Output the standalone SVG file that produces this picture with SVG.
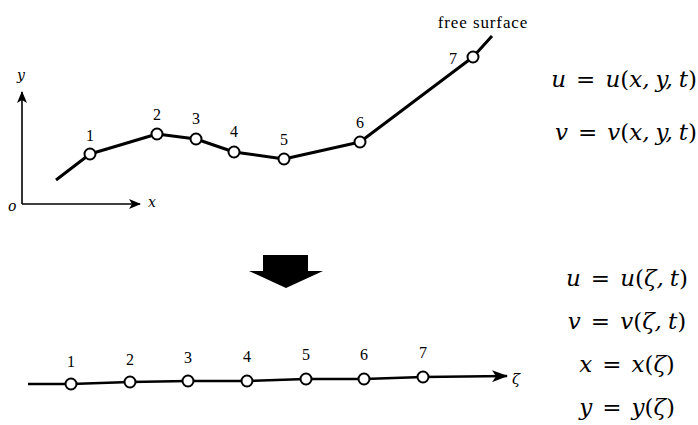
<svg xmlns="http://www.w3.org/2000/svg" width="698" height="425" viewBox="0 0 698 425">
<defs>
<style>
.num{font-family:"Liberation Serif","DejaVu Serif",serif;font-size:16px;fill:#000;text-anchor:middle}
.lbl{font-family:"Liberation Serif","DejaVu Serif",serif;font-size:17px;letter-spacing:0.9px;fill:#000}
.math{font-family:"DejaVu Serif",serif;font-style:italic;font-size:23px;fill:#000}
.up{font-style:normal}
.node{fill:#fff;stroke:#000;stroke-width:2}
.curve{fill:none;stroke:#000;stroke-width:3;stroke-linejoin:round}
.axis{fill:none;stroke:#000;stroke-width:1.6}
</style>
<marker id="ah" viewBox="0 0 12 10" refX="11" refY="5" markerWidth="12" markerHeight="10" markerUnits="userSpaceOnUse" orient="auto">
<path d="M0,0 L12,5 L0,10 L3,5 Z" fill="#000"/>
</marker>
<marker id="ah2" viewBox="0 0 16 12" refX="15" refY="6" markerWidth="16" markerHeight="12" markerUnits="userSpaceOnUse" orient="auto">
<path d="M0,0 L16,6 L0,12 L4,6 Z" fill="#000"/>
</marker>
</defs>
<rect width="698" height="425" fill="#fff"/>
<g id="connectors">
<line class="axis" x1="22" y1="204" x2="22" y2="92" marker-end="url(#ah)"/>
<line class="axis" x1="22" y1="204" x2="140" y2="204" marker-end="url(#ah)"/>
<polyline class="curve" points="56,180 90,154 157,134 196,139 234,152 284,159 360,142 473,57 492,36"/>
<polyline class="curve" style="stroke-width:2.6" points="28,384 71,384 130,382 188,381 247,381 306,379 364,379 423,377 507,376" marker-end="url(#ah2)"/>
</g>
<g id="axis-labels">
<text class="math" style="font-size:14px" x="8" y="211">o</text>
<text class="math" style="font-size:14px" x="148" y="207">x</text>
<text class="math" style="font-size:14px" x="17" y="80">y</text>
<text class="math" style="font-size:15px" x="512" y="384">ζ</text>
</g>
<g id="top-nodes">
<g id="t1"><circle class="node" cx="90" cy="154" r="5.5"/><text class="num" x="90" y="141">1</text></g>
<g id="t2"><circle class="node" cx="157" cy="134" r="5.5"/><text class="num" x="157" y="120">2</text></g>
<g id="t3"><circle class="node" cx="196" cy="139" r="5.5"/><text class="num" x="196" y="124">3</text></g>
<g id="t4"><circle class="node" cx="234" cy="152" r="5.5"/><text class="num" x="234" y="137">4</text></g>
<g id="t5"><circle class="node" cx="284" cy="159" r="5.5"/><text class="num" x="284" y="145">5</text></g>
<g id="t6"><circle class="node" cx="360" cy="142" r="5.5"/><text class="num" x="360" y="128">6</text></g>
<g id="t7"><circle class="node" cx="473" cy="57" r="5.5"/><text class="num" x="453" y="64">7</text></g>
<text class="lbl" x="483" y="28" text-anchor="middle">free surface</text>
</g>
<g id="bottom-nodes">
<g id="b1"><circle class="node" cx="71" cy="384" r="5.5"/><text class="num" x="71" y="367">1</text></g>
<g id="b2"><circle class="node" cx="130" cy="382" r="5.5"/><text class="num" x="130" y="365">2</text></g>
<g id="b3"><circle class="node" cx="188" cy="381" r="5.5"/><text class="num" x="188" y="363">3</text></g>
<g id="b4"><circle class="node" cx="247" cy="381" r="5.5"/><text class="num" x="247" y="362">4</text></g>
<g id="b5"><circle class="node" cx="306" cy="379" r="5.5"/><text class="num" x="306" y="360">5</text></g>
<g id="b6"><circle class="node" cx="364" cy="379" r="5.5"/><text class="num" x="364" y="360">6</text></g>
<g id="b7"><circle class="node" cx="423" cy="377" r="5.5"/><text class="num" x="423" y="358">7</text></g>
</g>
<g id="big-arrow">
<path d="M263,255 L308,255 L308,271 L323,271 L286,288 L249,271 L263,271 Z" fill="#000"/>
</g>
<g id="equations-top">
<text class="math" x="697" y="87" text-anchor="end">u<tspan class="up" dx="10">=</tspan><tspan dx="10">u</tspan><tspan class="up">(</tspan>x,<tspan dx="6">y</tspan>,<tspan dx="6">t</tspan><tspan class="up">)</tspan></text>
<text class="math" x="697" y="140" text-anchor="end">v<tspan class="up" dx="10">=</tspan><tspan dx="10">v</tspan><tspan class="up">(</tspan>x,<tspan dx="6">y</tspan>,<tspan dx="6">t</tspan><tspan class="up">)</tspan></text>
</g>
<g id="equations-bottom">
<text class="math" x="627" y="286" text-anchor="middle">u<tspan class="up" dx="10">=</tspan><tspan dx="10">u</tspan><tspan class="up">(</tspan>ζ,<tspan dx="6">t</tspan><tspan class="up">)</tspan></text>
<text class="math" x="627" y="329" text-anchor="middle">v<tspan class="up" dx="10">=</tspan><tspan dx="10">v</tspan><tspan class="up">(</tspan>ζ,<tspan dx="6">t</tspan><tspan class="up">)</tspan></text>
<text class="math" x="627" y="372" text-anchor="middle">x<tspan class="up" dx="10">=</tspan><tspan dx="10">x</tspan><tspan class="up">(</tspan>ζ<tspan class="up">)</tspan></text>
<text class="math" x="627" y="415" text-anchor="middle">y<tspan class="up" dx="10">=</tspan><tspan dx="10">y</tspan><tspan class="up">(</tspan>ζ<tspan class="up">)</tspan></text>
</g>
</svg>
